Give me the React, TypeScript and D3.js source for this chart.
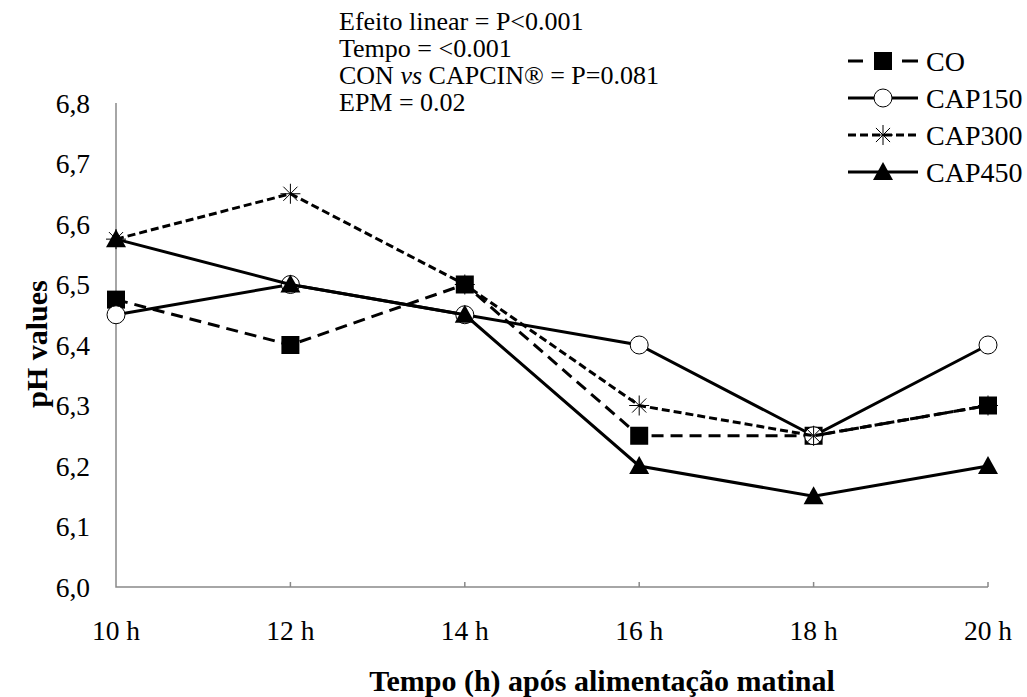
import React, { useEffect, useRef } from 'react';
import * as d3 from 'd3';

// tempo apos alimentacao
const categories = ['10 h', '12 h', '14 h', '16 h', '18 h', '20 h'];
const yTicks = [6.0, 6.1, 6.2, 6.3, 6.4, 6.5, 6.6, 6.7, 6.8];

const seriesNames = ['CO', 'CAP150', 'CAP300', 'CAP450'];
const coValues = [6.475, 6.4, 6.5, 6.25, 6.25, 6.3];
const cap150Values = [6.45, 6.5, 6.45, 6.4, 6.25, 6.4];
const cap300Values = [6.575, 6.65, 6.5, 6.3, 6.25, 6.3];
const cap450Values = [6.575, 6.5, 6.45, 6.2, 6.15, 6.2];

const notes = [
  ['Efeito linear = P<0.001'],
  ['Tempo = <0.001'],
  ['CON ', 'vs', ' CAPCIN® = P=0.081'],
  ['EPM = 0.02'],
];

const FONT = 'Liberation Serif, DejaVu Serif, serif';

function App() {
  const svgRef = useRef(null);

  useEffect(() => {
    document.body.style.margin = '0';
    const svg = d3.select(svgRef.current);
    svg.selectAll('*').remove();

    const x = d3.scalePoint().domain(categories).range([116, 988]);
    const y = d3.scaleLinear().domain([6.0, 6.8]).range([587, 103]);

    const styles = [
      { name: seriesNames[0], values: coValues, dash: '12,7', marker: 'square' },
      { name: seriesNames[1], values: cap150Values, dash: null, marker: 'circle' },
      { name: seriesNames[2], values: cap300Values, dash: '8,4', marker: 'star' },
      { name: seriesNames[3], values: cap450Values, dash: null, marker: 'triangle' },
    ];

    // axes
    svg
      .append('path')
      .attr('d', `M${x(categories[0])},${y(6.8)}V${y(6.0)}H${x(categories[5])}`)
      .attr('fill', 'none')
      .attr('stroke', '#898989')
      .attr('stroke-width', 1.5);
    svg
      .append('g')
      .selectAll('line')
      .data(categories.slice(1))
      .enter()
      .append('line')
      .attr('x1', (d) => x(d))
      .attr('x2', (d) => x(d))
      .attr('y1', y(6.0))
      .attr('y2', y(6.0) - 5)
      .attr('stroke', '#898989')
      .attr('stroke-width', 1.5);

    svg
      .append('g')
      .selectAll('text')
      .data(yTicks)
      .enter()
      .append('text')
      .attr('x', 90)
      .attr('y', (d) => y(d))
      .attr('dy', '0.35em')
      .attr('text-anchor', 'end')
      .attr('font-size', 27.5)
      .text((d) => d3.format('.1f')(d).replace('.', ','));

    svg
      .append('g')
      .selectAll('text')
      .data(categories)
      .enter()
      .append('text')
      .attr('x', (d) => x(d))
      .attr('y', 640)
      .attr('text-anchor', 'middle')
      .attr('font-size', 27.5)
      .text((d) => d);

    svg
      .append('text')
      .attr('x', 602)
      .attr('y', 691)
      .attr('text-anchor', 'middle')
      .attr('font-size', 30)
      .attr('font-weight', 'bold')
      .text('Tempo (h) após alimentação matinal');

    svg
      .append('text')
      .attr('transform', 'translate(47,344) rotate(-90)')
      .attr('text-anchor', 'middle')
      .attr('font-size', 30)
      .attr('font-weight', 'bold')
      .text('pH values');

    const drawMarker = (g, kind, cx, cy) => {
      if (kind === 'square') {
        g.append('rect')
          .attr('x', cx - 9)
          .attr('y', cy - 9)
          .attr('width', 18)
          .attr('height', 18)
          .attr('fill', '#000');
      } else if (kind === 'circle') {
        g.append('circle')
          .attr('cx', cx)
          .attr('cy', cy)
          .attr('r', 9)
          .attr('fill', '#fff')
          .attr('stroke', '#000')
          .attr('stroke-width', 1);
      } else if (kind === 'triangle') {
        g.append('path')
          .attr('d', `M${cx},${cy - 10}L${cx + 10},${cy + 8}L${cx - 10},${cy + 8}Z`)
          .attr('fill', '#000');
      } else {
        const r = 10;
        [0, 45, 90, 135].forEach((a) => {
          const dx = Math.cos((a * Math.PI) / 180) * r;
          const dy = Math.sin((a * Math.PI) / 180) * r;
          g.append('line')
            .attr('x1', cx - dx)
            .attr('y1', cy - dy)
            .attr('x2', cx + dx)
            .attr('y2', cy + dy)
            .attr('stroke', '#000')
            .attr('stroke-width', 1);
        });
      }
    };

    const line = d3
      .line()
      .x((d, i) => x(categories[i]))
      .y((d) => y(d));

    styles.forEach((s) => {
      const g = svg.append('g');
      g.append('path')
        .attr('d', line(s.values))
        .attr('fill', 'none')
        .attr('stroke', '#000')
        .attr('stroke-width', 3)
        .attr('stroke-dasharray', s.dash);
      s.values.forEach((v, i) => drawMarker(g, s.marker, x(categories[i]), y(v)));
    });

    // legend
    styles.forEach((s, i) => {
      const ly = 61 + i * 37;
      const g = svg.append('g');
      g.append('line')
        .attr('x1', 848)
        .attr('x2', 918)
        .attr('y1', ly)
        .attr('y2', ly)
        .attr('stroke', '#000')
        .attr('stroke-width', 3)
        .attr('stroke-dasharray', s.marker === 'square' ? '15,39,16' : s.dash);
      drawMarker(g, s.marker, 883, ly);
      g.append('text')
        .attr('x', 926)
        .attr('y', ly)
        .attr('dy', '0.35em')
        .attr('font-size', 28)
        .text(s.name);
    });

    // notas
    notes.forEach((parts, i) => {
      const t = svg
        .append('text')
        .attr('x', 339)
        .attr('y', 30 + i * 27)
        .attr('font-size', 26);
      parts.forEach((p) => {
        t.append('tspan')
          .attr('font-style', p === 'vs' ? 'italic' : 'normal')
          .text(p);
      });
    });
  }, []);

  return (
    <div style={{ width: 1027, height: 697 }}>
      <svg
        ref={svgRef}
        width={1027}
        height={697}
        fontFamily={FONT}
        style={{ display: 'block', background: '#fff' }}
      ></svg>
    </div>
  );
}

export default App;
